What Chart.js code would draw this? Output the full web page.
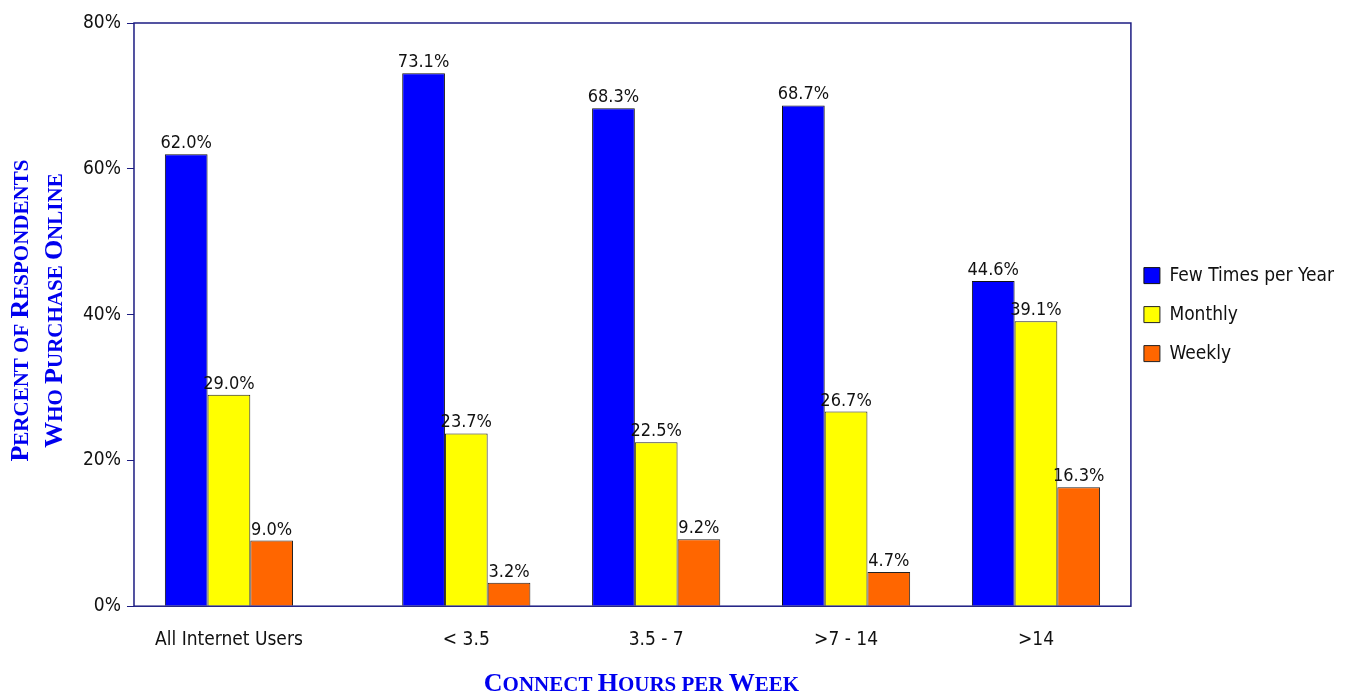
<!DOCTYPE html>
<html>
<head>
<meta charset="utf-8">
<script src="https://cdn.jsdelivr.net/npm/chart.js@4"></script>
<style>
  body { margin: 0; background: #fff; }
  #wrap { width: 1352px; height: 695px; }
</style>
</head>
<body>
<div id="wrap"><canvas id="purchaseChart"></canvas></div>
<script>
// data
var categories = ["All Internet Users", "< 3.5", "3.5 - 7", ">7 - 14", ">14"];
var fewTimes = [62.0, 73.1, 68.3, 68.7, 44.6];
var monthly = [29.0, 23.7, 22.5, 26.7, 39.1];
var weekly = [9.0, 3.2, 9.2, 4.7, 16.3];
var yTicks = [0, 20, 40, 60, 80];
var xTitle = "Connect Hours per Week";
var yTitle = ["Percent of Respondents", "Who Purchase Online"];

// first group stands a little apart from the hour bands
var slots = categories.map(function (c, i) { return i + 0.5 + (i > 0 ? 0.25 : 0); });

function points(values) {
  return values.map(function (v, i) { return { x: slots[i], y: v }; });
}

var navy = "#1c1c82";
var titleBlue = "#0000ee";
var narrow = "'DejaVu Sans Condensed', 'Liberation Sans Narrow', sans-serif";
var serif = "'Liberation Serif', 'Times New Roman', serif";

// canvas has no small-caps, so fake it: capitals big, the rest upper-cased smaller
function smallCapsRuns(text) {
  var runs = [];
  for (var i = 0; i < text.length; i++) {
    var ch = text[i];
    var big = ch !== ch.toLowerCase();
    var last = runs[runs.length - 1];
    if (last && last.big === big) last.s += ch.toUpperCase();
    else runs.push({ big: big, s: ch.toUpperCase() });
  }
  return runs;
}

function drawSmallCaps(ctx, text, cx, baseline, bigSize, smallSize) {
  var runs = smallCapsRuns(text);
  var total = 0;
  runs.forEach(function (r) {
    ctx.font = "bold " + (r.big ? bigSize : smallSize) + "px " + serif;
    r.w = ctx.measureText(r.s).width;
    total += r.w;
  });
  var x = cx - total / 2;
  ctx.textAlign = "left";
  ctx.textBaseline = "alphabetic";
  runs.forEach(function (r) {
    ctx.font = "bold " + (r.big ? bigSize : smallSize) + "px " + serif;
    ctx.fillText(r.s, x, baseline);
    x += r.w;
  });
}

var axisTitles = {
  id: "axisTitles",
  afterDraw: function (chart) {
    var ctx = chart.ctx, a = chart.chartArea;
    var midY = (a.top + a.bottom) / 2 - 4;
    ctx.save();
    ctx.fillStyle = titleBlue;
    drawSmallCaps(ctx, xTitle, (a.left + a.right) / 2 + 9, 691, 26, 21);
    ctx.translate(0, midY);
    ctx.rotate(-Math.PI / 2);
    drawSmallCaps(ctx, yTitle[0], 0, 28, 26, 21);
    drawSmallCaps(ctx, yTitle[1], 0, 62, 26, 21);
    ctx.restore();
  }
};

var frame = {
  id: "frame",
  afterDatasetsDraw: function (chart) {
    var a = chart.chartArea, ctx = chart.ctx;
    ctx.save();
    ctx.strokeStyle = navy;
    ctx.lineWidth = 1.5;
    ctx.strokeRect(a.left, a.top, a.right - a.left, a.bottom - a.top);
    ctx.restore();
  }
};

// legend sits closer to the plot than Chart.js puts it
var legendNudge = {
  id: "legendNudge",
  afterLayout: function (chart) {
    chart.legend.left -= 7;
    chart.legend.right -= 7;
  }
};

var valueLabels = {
  id: "valueLabels",
  afterDatasetsDraw: function (chart) {
    var ctx = chart.ctx;
    ctx.save();
    ctx.font = "18px " + narrow;
    ctx.fillStyle = "#111";
    ctx.textAlign = "center";
    ctx.textBaseline = "alphabetic";
    chart.data.datasets.forEach(function (ds, di) {
      chart.getDatasetMeta(di).data.forEach(function (bar, i) {
        ctx.fillText(ds.data[i].y.toFixed(1) + "%", bar.x, bar.y - 6);
      });
    });
    ctx.restore();
  }
};

var ctx = document.getElementById("purchaseChart").getContext("2d");
var chart = new Chart(ctx, {
  type: "bar",
  data: {
    datasets: [
      { label: "Few Times per Year", data: points(fewTimes), backgroundColor: "#0000ff", borderColor: "#111", borderWidth: 1 },
      { label: "Monthly", data: points(monthly), backgroundColor: "#ffff00", borderColor: "#222", borderWidth: 1 },
      { label: "Weekly", data: points(weekly), backgroundColor: "#ff6600", borderColor: "#222", borderWidth: 1 }
    ]
  },
  options: {
    responsive: true,
    maintainAspectRatio: false,
    animation: false,
    categoryPercentage: 0.675,
    barPercentage: 1,
    layout: { padding: { top: 23, right: 1, left: 77, bottom: 30 } },
    plugins: {
      tooltip: { enabled: false },
      legend: {
        position: "right",
        fullSize: false,
        labels: {
          boxWidth: 16,
          boxHeight: 16,
          padding: 20,
          color: "#111",
          font: { size: 19, family: narrow }
        }
      }
    },
    scales: {
      x: {
        type: "linear",
        min: 0,
        max: slots[slots.length - 1] + 0.5,
        offset: false,
        grid: { display: false },
        border: { display: false },
        afterBuildTicks: function (axis) {
          axis.ticks = slots.map(function (v) { return { value: v }; });
        },
        ticks: {
          autoSkip: false,
          maxRotation: 0,
          padding: 14,
          color: "#111",
          font: { size: 19, family: narrow },
          callback: function (value) { return categories[slots.indexOf(value)]; }
        }
      },
      y: {
        min: 0,
        max: 80,
        grid: { drawOnChartArea: false, drawTicks: true, tickLength: 7, color: navy },
        border: { display: false },
        afterBuildTicks: function (axis) {
          axis.ticks = yTicks.map(function (v) { return { value: v }; });
        },
        ticks: {
          padding: 6,
          color: "#111",
          font: { size: 19, family: narrow },
          callback: function (value) { return value + "%"; }
        }
      }
    }
  },
  plugins: [frame, valueLabels, axisTitles, legendNudge]
});
</script>
</body>
</html>
